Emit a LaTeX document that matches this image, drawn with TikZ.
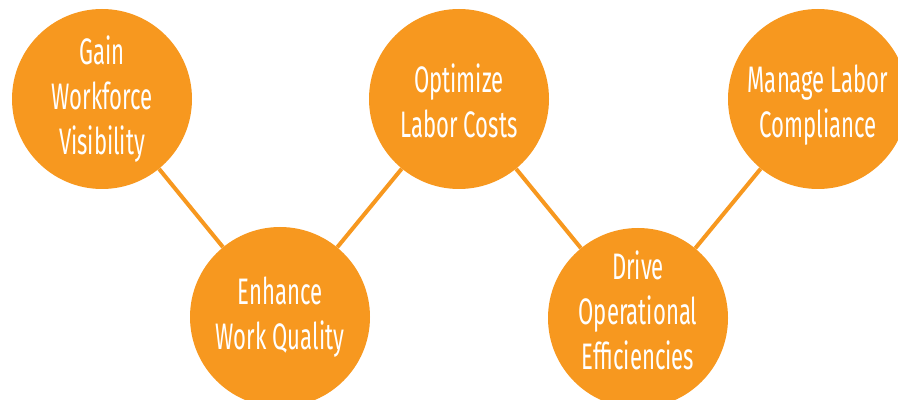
\documentclass[tikz,border=0pt]{standalone}
\usepackage{fontspec}
\usepackage{tikz}
\newfontfamily\goalfont[FakeStretch=0.6]{Fira Sans}
\definecolor{goalorange}{HTML}{F7981F}

\begin{document}
\begin{tikzpicture}[line join=bevel,
  goal/.style={circle,fill=goalorange,draw=none,minimum size=180bp,inner sep=0pt,
    text=white,align=center,font=\goalfont\fontsize{37}{45}\selectfont},
  link/.style={goalorange,line width=4bp}]
\clip (0bp,0bp) rectangle (898bp,400bp);
%%
\node (node_0) at (102bp,301bp) [goal] {Gain\\Workforce\\Visibility};
  \node (node_1) at (280bp,83bp) [goal] {Enhance\\Work Quality};
  \node (node_2) at (459bp,301bp) [goal,text height=77bp,text depth=0bp] {Optimize\\Labor Costs};
  \node (node_3) at (638bp,82bp) [goal,text depth=16bp] {Drive\\Operational\\Efficiencies};
  \node (node_4) at (818bp,301bp) [goal,text height=77bp,text depth=0bp] {Manage Labor\\Compliance};
  \draw [link] (node_0) -- (node_1);
  \draw [link] (node_1) -- (node_2);
  \draw [link] (node_2) -- (node_3);
  \draw [link] (node_3) -- (node_4);
%
\end{tikzpicture}
\end{document}
